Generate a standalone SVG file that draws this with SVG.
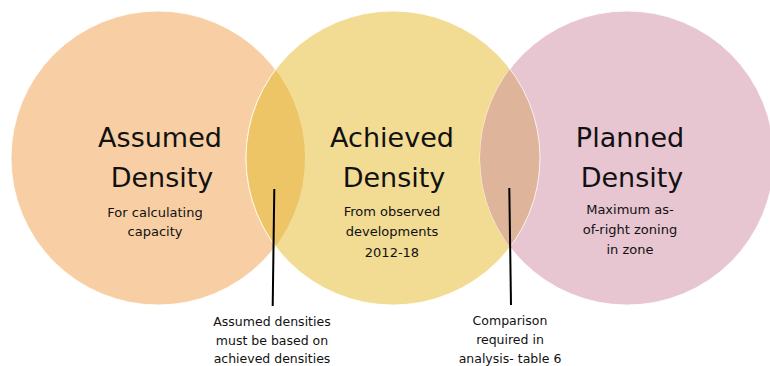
<svg xmlns="http://www.w3.org/2000/svg" width="770" height="366" viewBox="0 0 770 366">
<style>
.title{font-family:"DejaVu Sans","Liberation Sans",sans-serif;font-size:27px;fill:#111;text-anchor:middle}
.sub{font-family:"DejaVu Sans","Liberation Sans",sans-serif;font-size:13px;fill:#111;text-anchor:middle}
.note{font-family:"DejaVu Sans","Liberation Sans",sans-serif;font-size:12.5px;fill:#111;text-anchor:middle}
.edge{stroke:#ffffff;stroke-width:1;stroke-opacity:0.8}
.conn{stroke:#000;stroke-width:2;fill:none}
</style>
<defs>
<clipPath id="clipL"><circle cx="158" cy="158" r="147"/></clipPath>
<clipPath id="clipR"><circle cx="627" cy="158" r="147"/></clipPath>
</defs>
<rect width="770" height="366" fill="#ffffff"/>
<g id="circle-assumed">
<circle class="edge" cx="158" cy="158" r="147" fill="#F8CFA4"/>
</g>
<g id="circle-achieved">
<circle class="edge" cx="393" cy="158" r="147" fill="#F2DB93"/>
</g>
<g id="circle-planned">
<circle class="edge" cx="627" cy="158" r="147" fill="#E7C5D1"/>
</g>
<g id="overlap-assumed-achieved">
<circle class="edge" cx="393" cy="158" r="147" fill="#EDC466" clip-path="url(#clipL)"/>
</g>
<g id="overlap-achieved-planned">
<circle class="edge" cx="393" cy="158" r="147" fill="#DEB49A" clip-path="url(#clipR)"/>
</g>
<g id="label-assumed">
<text class="title" x="160" y="147">Assumed</text>
<text class="title" x="162" y="187">Density</text>
<text class="sub" x="155" y="217">For calculating</text>
<text class="sub" x="155" y="236">capacity</text>
</g>
<g id="label-achieved">
<text class="title" x="392" y="147">Achieved</text>
<text class="title" x="394" y="187">Density</text>
<text class="sub" x="392" y="216">From observed</text>
<text class="sub" x="392" y="236">developments</text>
<text class="sub" x="392" y="257">2012-18</text>
</g>
<g id="label-planned">
<text class="title" x="630" y="147">Planned</text>
<text class="title" x="632" y="187">Density</text>
<text class="sub" x="630" y="214">Maximum as-</text>
<text class="sub" x="630" y="234">of-right zoning</text>
<text class="sub" x="630" y="254">in zone</text>
</g>
<g id="connectors">
<line class="conn" x1="274.3" y1="189" x2="272.7" y2="306"/>
<line class="conn" x1="509.3" y1="188" x2="511" y2="305"/>
</g>
<g id="note-left">
<text class="note" x="272" y="326">Assumed densities</text>
<text class="note" x="272" y="345">must be based on</text>
<text class="note" x="272" y="363">achieved densities</text>
</g>
<g id="note-right">
<text class="note" x="510" y="325">Comparison</text>
<text class="note" x="510" y="344">required in</text>
<text class="note" x="510" y="363">analysis- table 6</text>
</g>
</svg>
